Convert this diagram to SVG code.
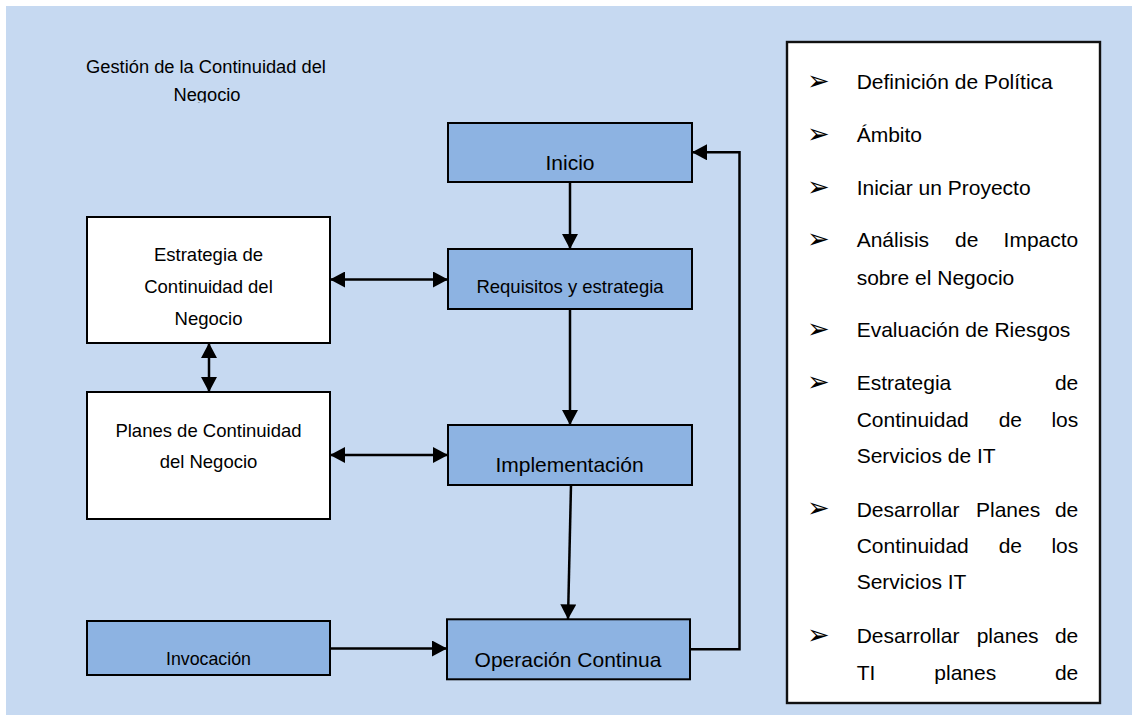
<svg xmlns="http://www.w3.org/2000/svg" width="1132" height="715" viewBox="0 0 1132 715">
  <defs>
    <marker id="head" viewBox="0 0 15 16" refX="15" refY="8" markerWidth="15" markerHeight="16" markerUnits="userSpaceOnUse" orient="auto-start-reverse">
      <path d="M0,0 L15,8 L0,16 Z" fill="#000"/>
    </marker>
    <clipPath id="titleClip">
      <rect x="0" y="0" width="420" height="102.5"/>
    </clipPath>
  </defs>
  <style>
    .bg { fill: #C6D9F1; }
    .step { fill: #8DB3E2; stroke: #000; stroke-width: 2; }
    .plain { fill: #FFFFFF; stroke: #000; stroke-width: 2; }
    .panel { fill: #FFFFFF; stroke: #111; stroke-width: 2.4; }
    text { font-family: "Liberation Sans", Arial, sans-serif; fill: #000; }
    .lbl { text-anchor: middle; font-size: 18.5px; }
    .big { text-anchor: middle; font-size: 21px; }
    .title { text-anchor: middle; font-size: 18.3px; }
    .item { font-size: 21px; }
    .end { text-anchor: end; }
    .bul { font-family: "DejaVu Sans", sans-serif; font-size: 27px; }
    .link { fill: none; stroke: #000; stroke-width: 2.5; }
    .one { marker-end: url(#head); }
    .two { marker-start: url(#head); marker-end: url(#head); }
  </style>

  <rect class="bg" x="6" y="6" width="1126" height="709"/>

  <!-- heading -->
  <g id="title" clip-path="url(#titleClip)">
    <text class="title" x="206" y="72.7">Gestión de la Continuidad del</text>
    <text class="title" x="207" y="101">Negocio</text>
  </g>

  <!-- process steps -->
  <g id="inicio">
    <rect class="step" x="448" y="123" width="244" height="59"/>
    <text class="big" x="570" y="170">Inicio</text>
  </g>
  <g id="requisitos">
    <rect class="step" x="448" y="249" width="244" height="60"/>
    <text class="lbl" x="570" y="293">Requisitos y estrategia</text>
  </g>
  <g id="implementacion">
    <rect class="step" x="448" y="425" width="244" height="60"/>
    <text class="big" x="569.5" y="471.7">Implementación</text>
  </g>
  <g id="operacion">
    <rect class="step" x="447" y="619.3" width="243" height="60"/>
    <text class="big" x="568" y="666.7">Operación Continua</text>
  </g>
  <g id="invocacion">
    <rect class="step" x="87" y="621" width="243" height="54"/>
    <text class="lbl" x="208.5" y="665" style="font-size:17.8px">Invocación</text>
  </g>

  <!-- business side -->
  <g id="estrategia">
    <rect class="plain" x="87" y="217" width="243" height="126"/>
    <text class="lbl" x="208.5" y="261">Estrategia de</text>
    <text class="lbl" x="208.5" y="293">Continuidad del</text>
    <text class="lbl" x="208.5" y="325">Negocio</text>
  </g>
  <g id="planes">
    <rect class="plain" x="87" y="392" width="243" height="127"/>
    <text class="lbl" x="208.5" y="436.7">Planes de Continuidad</text>
    <text class="lbl" x="208.5" y="468.3">del Negocio</text>
  </g>

  <!-- activity list -->
  <g id="actividades">
    <rect class="panel" x="787" y="42" width="313" height="661"/>
    <g class="bul">
      <text x="807" y="90">➢</text>
      <text x="807" y="142.5">➢</text>
      <text x="807" y="195.5">➢</text>
      <text x="807" y="248">➢</text>
      <text x="807" y="337.5">➢</text>
      <text x="807" y="390.5">➢</text>
      <text x="807" y="517">➢</text>
      <text x="807" y="644">➢</text>
    </g>
    <g class="item">
      <text x="856.7" y="89.3">Definición de Política</text>
      <text x="856.7" y="141.7">Ámbito</text>
      <text x="856.7" y="195">Iniciar un Proyecto</text>
      <text x="856.7" y="247.3">Análisis</text>
      <text x="955" y="247.3">de</text>
      <text class="end" x="1078.3" y="247.3">Impacto</text>
      <text x="856.7" y="284.5">sobre el Negocio</text>
      <text x="856.7" y="336.7">Evaluación de Riesgos</text>
      <text x="856.7" y="390">Estrategia</text>
      <text class="end" x="1078.3" y="390">de</text>
      <text x="856.7" y="426.7">Continuidad</text>
      <text x="998.7" y="426.7">de</text>
      <text class="end" x="1078.3" y="426.7">los</text>
      <text x="856.7" y="463.3">Servicios de IT</text>
      <text x="856.7" y="516.7">Desarrollar</text>
      <text x="976" y="516.7">Planes</text>
      <text class="end" x="1078.3" y="516.7">de</text>
      <text x="856.7" y="553.3">Continuidad</text>
      <text x="998.7" y="553.3">de</text>
      <text class="end" x="1078.3" y="553.3">los</text>
      <text x="856.7" y="589.3">Servicios IT</text>
      <text x="856.7" y="643.3">Desarrollar</text>
      <text x="976.7" y="643.3">planes</text>
      <text class="end" x="1078.3" y="643.3">de</text>
      <text x="856.7" y="680">TI</text>
      <text x="934.3" y="680">planes</text>
      <text class="end" x="1078.3" y="680">de</text>
    </g>
  </g>

  <!-- connectors -->
  <g id="connectors">
    <path class="link one" d="M570,182 L570,249"/>
    <path class="link one" d="M570,309 L570,425"/>
    <path class="link one" d="M571,485 L568,619.3"/>
    <path class="link one" d="M330,648.5 L447,648.5"/>
    <path class="link one" d="M690,649.3 L739.5,649.3 L739.5,152.3 L692,152.3"/>
    <path class="link two" d="M330,279.5 L448,279.5"/>
    <path class="link two" d="M330,455 L448,455"/>
    <path class="link two" d="M209,343 L209,392"/>
  </g>
</svg>
